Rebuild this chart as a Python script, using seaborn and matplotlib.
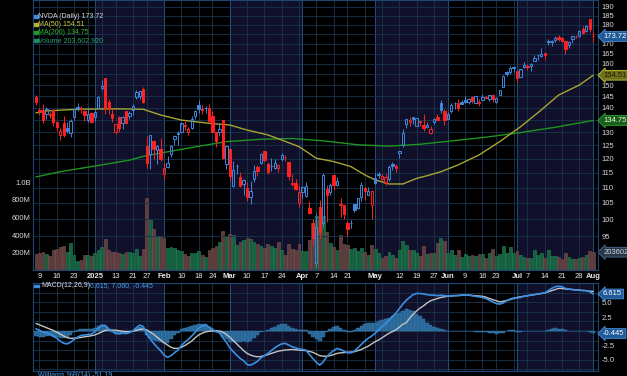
import numpy as np
import pandas as pd
import matplotlib
matplotlib.use("Agg")
import matplotlib.pyplot as plt
from matplotlib.patches import Rectangle
from matplotlib.ticker import FixedLocator, NullLocator, FuncFormatter
import seaborn as sns

sns.set_style("dark")
plt.rcParams['font.family'] = ['Liberation Sans Narrow', 'Liberation Sans', 'DejaVu Sans']

#=======================
# NVDA daily bars, 2024-12-06 .. 2025-08-01
holidays = ['2024-12-25', '2025-01-01', '2025-01-09', '2025-01-20', '2025-02-17',
            '2025-04-18', '2025-05-26', '2025-06-19', '2025-07-04']
dates = pd.bdate_range('2024-12-06', '2025-08-01', freq='C', holidays=holidays)

open_ = [144.60, 138.97, 139.01, 137.36, 137.08, 138.94, 134.18, 129.09, 133.86, 131.76, 129.81, 136.28, 140.00, 139.70, 138.55, 134.83, 138.03,
         136.00, 140.01, 148.59, 153.03, 142.58, 137.45, 129.99, 136.05, 133.65, 138.64, 136.69, 139.16, 144.66, 145.05, 148.37, 124.80, 121.81, 126.50, 123.10, 123.78,
         114.75, 116.96, 121.76, 127.42, 129.22, 130.09, 132.58, 130.02, 131.56, 136.48, 141.27, 139.51, 140.03, 140.04, 136.56, 129.98, 129.99, 135.00, 118.02,
         123.51, 110.65, 117.58, 113.53, 111.25, 109.90, 106.99, 112.73, 117.03, 118.61, 122.74, 118.00, 117.27, 116.55, 116.77, 119.88, 120.55, 118.73, 111.35, 111.49, 105.13,
         108.52, 107.29, 103.51, 98.91, 87.46, 103.81, 98.89, 109.37, 108.50, 114.11, 110.97, 104.55, 104.45, 98.77, 98.78, 104.52, 103.48, 106.85, 109.69, 107.67, 104.47,
         113.08, 114.18, 112.91, 111.48, 113.05, 118.25, 117.35, 121.97, 124.98, 133.20, 134.29, 136.22, 132.39, 134.29, 133.06, 132.23, 129.75, 134.15, 136.03, 142.25, 138.72,
         135.49, 138.78, 142.19, 142.17, 142.51, 143.19, 142.69, 144.61, 141.97, 142.48, 143.35, 144.49, 144.01, 145.45, 142.50, 145.56, 149.27, 155.98, 156.04, 158.37,
         156.29, 153.66, 158.39, 158.81, 159.00, 161.22, 164.32, 163.74, 165.37, 171.19, 171.06, 172.02, 173.64, 172.75, 171.34, 169.53, 172.19, 173.61, 174.02, 177.96, 176.71, 182.90,
         174.09]
high = [145.70, 139.95, 141.82, 140.17, 138.44, 139.60, 134.40, 131.59, 136.70, 134.03, 135.28, 139.79, 141.90, 140.85, 139.02, 140.27, 138.07,
        138.88, 144.90, 152.16, 153.13, 143.95, 139.92, 133.49, 136.38, 136.45, 138.75, 138.50, 141.83, 147.79, 147.23, 148.97, 128.40, 129.00, 126.89, 125.00, 127.85,
        118.57, 121.20, 125.00, 128.77, 130.37, 133.00, 134.48, 132.24, 136.50, 139.25, 143.44, 141.36, 140.67, 141.46, 138.59, 130.20, 133.73, 135.01, 125.09,
        123.70, 119.31, 118.28, 115.35, 113.00, 111.85, 112.23, 117.77, 117.76, 121.99, 122.90, 119.02, 120.45, 120.00, 117.99, 122.22, 121.29, 118.84, 114.45, 112.87, 110.96,
        110.20, 111.98, 105.63, 100.13, 101.75, 105.85, 115.10, 110.86, 111.65, 114.29, 113.62, 106.54, 104.47, 99.43, 99.81, 104.80, 106.54, 111.92, 110.37, 110.20, 108.92,
        114.94, 115.40, 114.67, 114.74, 117.68, 118.68, 118.23, 123.00, 131.22, 135.44, 136.30, 136.35, 135.87, 134.58, 137.40, 134.25, 132.68, 135.66, 137.25, 143.49, 139.62,
        138.12, 142.00, 142.39, 144.00, 143.27, 145.00, 144.29, 144.99, 145.00, 143.58, 146.18, 145.22, 145.65, 146.20, 144.78, 147.96, 154.45, 156.72, 158.71, 158.99,
        157.20, 157.10, 160.98, 159.66, 160.30, 164.42, 164.50, 167.89, 165.49, 172.40, 171.75, 174.16, 174.25, 173.38, 171.39, 171.26, 173.64, 174.72, 177.00, 179.38, 179.67, 183.30,
        176.54]
low = [141.31, 137.13, 133.79, 135.21, 135.80, 132.54, 130.42, 126.86, 128.28, 129.55, 128.22, 135.12, 138.65, 137.73, 134.71, 134.02, 133.83,
       134.63, 139.73, 147.82, 137.56, 137.56, 134.22, 129.51, 130.05, 131.29, 133.49, 135.46, 137.09, 143.67, 143.72, 141.88, 116.70, 116.25, 120.05, 118.10, 119.19,
       113.01, 116.70, 120.76, 125.21, 125.00, 129.96, 131.02, 129.08, 131.17, 135.50, 137.93, 137.22, 137.78, 134.03, 130.08, 124.44, 128.49, 120.01, 116.40,
       112.28, 110.11, 114.51, 110.22, 107.56, 105.46, 104.77, 112.01, 113.79, 118.15, 118.70, 114.54, 115.53, 116.50, 115.43, 119.20, 119.14, 112.70, 110.66, 109.07, 103.65,
       106.47, 106.79, 101.60, 92.11, 86.62, 94.46, 97.53, 99.15, 107.43, 109.07, 110.50, 100.50, 100.05, 95.04, 97.28, 102.02, 103.11, 105.73, 106.02, 107.44, 99.96,
       111.30, 113.37, 112.66, 110.82, 112.28, 115.85, 115.21, 120.28, 124.47, 131.68, 132.66, 133.46, 132.39, 132.62, 130.59, 131.55, 129.16, 133.31, 134.79, 137.91, 132.92,
       135.40, 137.95, 139.55, 138.83, 141.51, 141.94, 141.53, 141.87, 141.85, 140.85, 143.20, 143.78, 143.12, 142.65, 142.03, 145.50, 149.26, 154.19, 155.08, 155.94,
       151.49, 153.58, 157.77, 157.11, 156.54, 161.16, 161.61, 163.47, 162.02, 169.20, 168.90, 170.83, 171.26, 171.00, 164.58, 167.97, 170.26, 172.96, 173.51, 175.02, 176.25, 175.93,
       170.89]
close = [142.44, 138.81, 135.07, 139.31, 137.34, 134.25, 132.00, 130.39, 128.91, 130.68, 134.70, 139.67, 140.22, 139.93, 137.01, 137.49, 134.29,
         138.31, 144.47, 149.43, 140.14, 140.11, 135.91, 133.23, 131.76, 136.24, 133.57, 137.71, 140.83, 147.07, 147.22, 142.62, 118.42, 128.99, 123.70, 124.65, 120.07,
         116.66, 118.65, 124.83, 128.68, 129.84, 133.57, 132.80, 131.14, 135.29, 138.85, 139.40, 139.23, 140.11, 134.43, 130.28, 126.63, 131.28, 120.15, 124.92,
         114.06, 115.99, 117.30, 110.57, 112.69, 106.98, 108.76, 115.74, 115.58, 121.67, 119.53, 115.43, 117.52, 118.53, 117.70, 121.41, 120.69, 113.76, 111.43, 109.67, 108.38,
         110.15, 110.42, 101.80, 94.31, 97.64, 96.30, 114.33, 107.57, 110.93, 110.71, 112.20, 104.49, 101.49, 96.91, 98.89, 102.71, 106.43, 111.01, 108.73, 109.02, 108.92,
         111.61, 114.50, 113.82, 113.54, 117.06, 117.37, 116.65, 123.00, 129.93, 135.34, 134.83, 135.40, 135.57, 134.38, 131.80, 132.83, 131.29, 135.50, 134.81, 139.19, 135.13,
         137.38, 141.22, 141.92, 139.99, 141.72, 142.63, 143.96, 142.83, 145.00, 141.97, 144.69, 144.12, 145.48, 143.85, 144.17, 147.90, 154.31, 155.02, 157.75, 157.99,
         153.30, 157.25, 159.34, 158.24, 160.00, 162.88, 164.10, 164.92, 164.07, 170.70, 171.37, 173.00, 172.41, 171.38, 167.03, 170.78, 173.74, 173.50, 176.75, 175.51, 179.27, 177.87,
         173.72]
close_before = 145.06   # close of 2024-12-05, sets colour of first bar
volume_m = [188.5, 189.3, 210.0, 184.9, 159.2, 231.5, 237.9, 259.4, 277.4, 209.7, 306.5, 176.1, 105.2, 116.2, 170.6, 167.7, 155.7,
            198.2, 229.3, 265.4, 351.8, 227.3, 207.6, 204.8, 195.6, 185.2, 209.2, 201.2, 197.7, 237.7, 155.9, 234.7, 818.8, 579.7, 467.1, 392.9, 390.4,
            371.2, 256.6, 262.2, 251.4, 228.2, 216.9, 178.9, 160.3, 197.4, 195.5, 219.2, 167.5, 143.9, 228.2, 251.4, 271.4, 322.5, 443.2, 389.1,
            411.4, 398.2, 284.4, 321.1, 341.8, 366.5, 354.9, 323.9, 299.0, 277.6, 255.5, 299.7, 273.4, 248.8, 316.4, 228.9, 168.7, 293.5, 236.1, 229.9, 299.2,
            222.6, 220.6, 338.8, 532.3, 612.0, 476.2, 612.9, 437.4, 313.4, 264.3, 228.3, 397.0, 292.5, 288.2, 241.0, 247.5, 220.8, 251.1, 207.7, 170.4, 286.5,
            236.1, 190.2, 133.2, 158.5, 206.5, 173.5, 132.7, 225.0, 330.4, 281.2, 226.6, 227.4, 193.2, 161.5, 270.6, 187.3, 197.7, 192.9, 304.0, 369.2, 333.2,
            197.7, 225.0, 167.1, 231.4, 153.9, 185.1, 155.9, 167.7, 162.4, 180.8, 183.1, 139.1, 193.0, 242.9, 154.3, 187.6, 269.2, 198.1, 263.2, 194.6,
            212.6, 171.0, 144.0, 140.1, 138.1, 230.7, 167.7, 193.6, 136.9, 230.6, 158.8, 160.8, 147.4, 123.1, 193.1, 154.1, 128.9, 122.3, 140.0, 154.1, 174.3, 221.7,
            203.6]

# moving averages
ma50_dates = ['2024-12-06', '2024-12-11', '2024-12-24', '2025-01-10', '2025-01-24', '2025-01-31', '2025-02-10',
              '2025-02-21', '2025-03-03', '2025-03-10', '2025-03-18', '2025-03-24', '2025-03-31', '2025-04-07',
              '2025-04-14', '2025-04-22', '2025-04-28', '2025-05-01', '2025-05-07', '2025-05-13', '2025-05-19',
              '2025-05-22', '2025-05-29', '2025-06-05', '2025-06-13', '2025-06-24', '2025-07-02', '2025-07-11',
              '2025-07-18', '2025-07-28', '2025-08-01']
ma50_vals = [137.9, 138.7, 139.4, 139.6, 139.4, 137.0, 134.9, 133.6, 132.9, 130.9, 129.0, 127.0, 124.5, 120.2,
             119.0, 117.2, 114.3, 112.6, 111.2, 111.2, 113.1, 114.0, 115.4, 117.8, 121.4, 126.4, 132.2, 139.1,
             145.5, 150.0, 154.51]
ma200_dates = ['2024-12-06', '2024-12-17', '2025-01-02', '2025-01-17', '2025-01-24', '2025-01-31', '2025-02-14',
               '2025-02-28', '2025-03-14', '2025-03-27', '2025-04-09', '2025-04-24', '2025-05-07', '2025-05-20',
               '2025-06-04', '2025-06-17', '2025-07-02', '2025-07-17', '2025-08-01']
ma200_vals = [113.6, 115.4, 117.4, 119.5, 120.9, 122.1, 124.4, 126.4, 127.3, 127.6, 126.7, 125.2, 124.7, 125.4,
              126.8, 128.1, 129.9, 132.0, 134.75]

# MACD(12,26,9) lines
macd = [0.4, 0.1, -0.2, -0.35, -0.5, -0.9, -1.3, -1.8, -2.2, -2.3, -2.0, -1.5, -1.1, -0.8, -0.7, -0.65, -0.55,
        -0.1, 0.5, 1.0, 1.0, 0.4, 0.0, -0.4, -0.5, -0.4, -0.45, -0.3, 0.0, 0.6, 1.05, 0.8, -0.6, -1.4, -2.2, -2.9, -3.5,
        -4.3, -4.7, -4.4, -3.9, -3.4, -2.6, -2.0, -1.5, -0.9, -0.2, 0.5, 0.9, 1.07, 0.7, 0.3, -0.1, -0.3, -1.2, -2.0,
        -3.0, -3.7, -4.3, -4.9, -5.3, -6.0, -6.1, -5.8, -5.4, -4.8, -4.4, -4.0, -3.5, -3.0, -2.6, -2.3, -2.2, -2.5, -2.8, -3.0, -3.2,
        -3.3, -3.4, -4.2, -4.9, -5.6, -6.1, -5.5, -4.6, -4.0, -3.5, -3.1, -3.3, -3.6, -3.9, -3.9, -3.6, -3.0, -2.4, -1.8, -1.3, -0.9,
        -0.4, 0.2, 0.8, 1.3, 1.9, 2.6, 3.2, 4.0, 4.8, 5.5, 6.0, 6.5, 6.7, 6.7, 6.6, 6.5, 6.4, 6.4, 6.3, 6.4, 6.3,
        6.25, 6.3, 6.35, 6.3, 6.4, 6.4, 6.4, 6.3, 6.2, 6.1, 6.0, 5.8, 5.5, 5.2, 4.9, 4.8, 5.0, 5.4, 5.7, 5.9,
        5.9, 6.0, 6.2, 6.3, 6.4, 6.5, 6.6, 6.7, 6.8, 7.2, 7.6, 7.9, 8.0, 7.9, 7.6, 7.5, 7.4, 7.3, 7.3, 7.2, 7.2, 7.0,
        6.615]
signal = [1.35, 1.1, 0.85, 0.6, 0.35, 0.1, -0.2, -0.55, -0.9, -1.2, -1.3, -1.3, -1.25, -1.15, -1.05, -0.95, -0.85,
          -0.7, -0.45, -0.15, 0.1, 0.18, 0.18, 0.15, 0.05, -0.05, -0.1, -0.1, -0.05, 0.1, 0.3, 0.35, 0.2, -0.2, -0.6, -1.1, -1.6,
          -2.1, -2.5, -2.9, -3.1, -3.1, -2.9, -2.6, -2.2, -1.8, -1.2, -0.7, -0.4, -0.15, -0.05, 0.0, 0.05, 0.0, -0.2, -0.6,
          -1.1, -1.7, -2.3, -2.9, -3.5, -4.0, -4.3, -4.5, -4.6, -4.55, -4.4, -4.2, -4.0, -3.8, -3.6, -3.5, -3.4, -3.35, -3.3, -3.35, -3.4,
          -3.45, -3.5, -3.65, -3.8, -4.1, -4.4, -4.5, -4.5, -4.4, -4.2, -4.0, -3.9, -3.85, -3.8, -3.75, -3.7, -3.5, -3.3, -3.0, -2.7, -2.3,
          -1.9, -1.6, -1.2, -0.8, -0.4, -0.1, 0.2, 0.7, 1.2, 1.5, 2.3, 3.0, 3.6, 4.1, 4.5, 5.0, 5.4, 5.6, 5.8, 6.0, 6.1,
          6.2, 6.25, 6.3, 6.35, 6.4, 6.4, 6.4, 6.35, 6.3, 6.25, 6.2, 6.05, 5.8, 5.6, 5.4, 5.2, 5.3, 5.45, 5.6, 5.8,
          6.0, 6.1, 6.2, 6.3, 6.4, 6.5, 6.6, 6.7, 6.8, 7.0, 7.2, 7.4, 7.6, 7.6, 7.5, 7.45, 7.4, 7.35, 7.3, 7.25, 7.2, 7.1,
          7.06]

tick_dates = ['2024-12-09', '2024-12-16', '2024-12-23', '2025-01-02', '2025-01-13', '2025-01-21', '2025-01-27',
              '2025-02-03', '2025-02-10', '2025-02-18', '2025-02-24', '2025-03-03', '2025-03-10', '2025-03-17',
              '2025-03-24', '2025-04-01', '2025-04-07', '2025-04-14', '2025-04-21', '2025-05-01', '2025-05-12',
              '2025-05-19', '2025-05-27', '2025-06-02', '2025-06-09', '2025-06-16', '2025-06-23', '2025-07-01',
              '2025-07-07', '2025-07-14', '2025-07-21', '2025-07-28', '2025-08-01']
tick_labels = ['9', '16', '23', '2025', '13', '21', '27', 'Feb', '10', '18', '24', 'Mar', '10', '17', '24',
               'Apr', '7', '14', '21', 'May', '12', '19', '27', 'Jun', '9', '16', '23', 'Jul', '7', '14', '21',
               '28', 'Aug']
bold_labels = ['2025', 'Feb', 'Mar', 'Apr', 'May', 'Jun', 'Jul', 'Aug']
price_ticks = [95, 100, 105, 110, 115, 120, 125, 130, 135, 140, 145, 150, 155, 160, 165, 170, 175, 180, 185, 190]
hidden_price_labels = [135, 155, 175]   # sit under the value tags

#=======================
n = len(dates)
pos = np.arange(n)
idx = {d.strftime('%Y-%m-%d'): i for i, d in enumerate(dates)}

o = np.array(open_)
h = np.array(high)
l = np.array(low)
c = np.array(close)
prev = np.r_[close_before, c[:-1]]
up = c >= prev
hollow = c > o

BLUE = '#3f88dc'
RED = '#ff2121'
NAVY = '#10102a'
GRID = '#18344f'
MLINE = '#234f7c'
EDGE = '#1d4573'
TXT = '#d8d8d8'

fig = plt.figure(figsize=(6.27, 3.76), dpi=100, facecolor='black')
L, W = 33 / 627, 565 / 627
ax_vol = fig.add_axes([L, 1 - 270 / 376, W, 270 / 376])
ax_macd = fig.add_axes([L, 1 - 371 / 376, W, 88 / 376], sharex=ax_vol)
ax = ax_vol.twinx()

month_start = [i for i in range(1, n) if dates[i].month != dates[i - 1].month]
week_start = [i for i in range(1, n) if dates[i].weekday() <= dates[i - 1].weekday()]

for a in (ax_vol, ax_macd):
    a.set_facecolor('black')
    bounds = month_start + [n + 3]
    for k, s in enumerate(month_start):
        if dates[s].month % 2 == 1:
            a.axvspan(s, bounds[k + 1], color=NAVY, lw=0, zorder=0)
    for w in week_start:
        a.axvline(w, color=GRID, lw=0.6, zorder=0.5)
    for s in month_start:
        a.axvline(s, color=MLINE, lw=0.7, zorder=0.6)
    for sp in a.spines.values():
        sp.set_color(EDGE)
        sp.set_linewidth(0.8)
for sp in ax.spines.values():
    sp.set_color(EDGE)
    sp.set_linewidth(0.8)

# volume
vcol = np.where(up, '#16603f', '#5d3c3c')
vedge = np.where(up, '#23875a', '#7c5555')
ax_vol.bar(pos, np.array(volume_m) * 1e6, width=0.82, color=vcol, edgecolor=vedge, lw=0.4, zorder=1)
ax_vol.set_ylim(0, 270 / 17.5 * 200e6)
ax_vol.set_yticks([200e6, 400e6, 600e6, 800e6, 1e9])
ax_vol.set_yticklabels(['200M', '400M', '600M', '800M', '1.0B'])
ax_vol.tick_params(axis='y', length=0, labelsize=5.5, labelcolor=TXT, pad=1.5)

# price candles
ax.set_yscale('log')
for p in price_ticks:
    ax.axhline(p, color=GRID, lw=0.6, zorder=0.5)
cols = np.where(up, BLUE, RED)
tops = np.maximum(o, c)
bots = np.minimum(o, c)
faces = [('none' if hollow[i] else cols[i]) for i in range(n)]
ax.vlines(pos, tops, h, colors=cols, lw=0.7, zorder=3)
ax.vlines(pos, l, bots, colors=cols, lw=0.7, zorder=3)
ax.bar(pos, tops - bots, bottom=bots, width=0.68, color=faces, edgecolor=cols, lw=0.7, zorder=4)

sns.lineplot(x=[idx[d] for d in ma200_dates], y=ma200_vals, ax=ax, color='#1f9420', lw=1.0, zorder=2)
sns.lineplot(x=[idx[d] for d in ma50_dates], y=ma50_vals, ax=ax, color='#a6a534', lw=1.0, zorder=2)

ax.set_ylim(85.72, 194.0)
shown = [p for p in price_ticks if p not in hidden_price_labels]
ax.yaxis.set_major_locator(FixedLocator(shown))
ax.yaxis.set_minor_locator(NullLocator())
ax.yaxis.set_major_formatter(FuncFormatter(lambda v, _: '%d' % round(v)))
ax.tick_params(axis='y', which='both', length=0, labelsize=5.5, labelcolor=TXT, pad=2.5)
ax.set_xlabel('')
ax.set_ylabel('')

# MACD panel
hist = np.array(macd) - np.array(signal)
ax_macd.axhline(0, color=GRID, lw=0.6, zorder=0.5)
for v in np.arange(-6.8, 8.6, 1.7):
    ax_macd.axhline(v, color=GRID, lw=0.6, zorder=0.5)
ax_macd.bar(pos, hist, width=1.0, color='#2a6695', edgecolor='#3a7eb8', lw=0.3, zorder=2)
sns.lineplot(x=pos, y=signal, ax=ax_macd, color='#c4c4c4', lw=1.0, zorder=3)
sns.lineplot(x=pos, y=macd, ax=ax_macd, color='#3b8fe0', lw=1.2, zorder=4)
ax_macd.set_ylim(-7.14, 8.57)
ax_macd.yaxis.tick_right()
ax_macd.set_yticks([-5, -2.5, 2.5, 5])
ax_macd.set_yticklabels(['-5.0', '-2.5', '2.5', '5.0'])
ax_macd.tick_params(axis='y', length=0, labelsize=5.5, labelcolor=TXT, pad=2.5)
ax_macd.tick_params(axis='x', length=0, labelbottom=False)
ax_macd.set_xlabel('')
ax_macd.set_ylabel('')

# date axis
ax_vol.set_xlim(-0.87, 162.4)
ax_vol.set_xticks([idx[d] for d in tick_dates])
ax_vol.set_xticklabels(tick_labels)
ax_vol.tick_params(axis='x', length=0, labelsize=5.5, labelcolor='#e6e6e6', pad=2.5)
for t in ax_vol.get_xticklabels():
    if t.get_text() in bold_labels:
        t.set_fontweight('bold')

# last-value tags on the right
def tag(a, y, s, fc, ec, tc):
    a.text(1.009, y, s, transform=a.get_yaxis_transform(), fontsize=5.5, color=tc, va='center', ha='left',
           bbox=dict(boxstyle='larrow,pad=0.18', fc=fc, ec=ec, lw=0.6), clip_on=False, zorder=10)

tag(ax, close[-1], '173.72', '#1f5a99', '#4a8fd8', 'white')
tag(ax, ma50_vals[-1], '154.51', '#6f6f1c', '#c4c43a', '#202000')
tag(ax, ma200_vals[-1], '134.75', '#1b5e1b', '#2fa82f', '#e0ffe0')
tag(ax_vol, volume_m[-1] * 1e6, '203602920', '#26384a', '#4d6f92', '#d0d8e0')
tag(ax_macd, macd[-1], '6.615', '#1f5a99', '#4a8fd8', 'white')
tag(ax_macd, hist[-1], '-0.445', '#1f5a99', '#4a8fd8', 'white')

# legends
leg = [('NVDA (Daily) 173.72', '#dadada', BLUE),
       ('MA(50) 154.51', '#caca3c', '#b5b532'),
       ('MA(200) 134.75', '#33b433', '#1f9a1f'),
       ('Volume 203,602,920', '#27a272', '#1f8a5a')]
for k, (s, tc, ic) in enumerate(leg):
    y = 16.0 + 8.1 * k
    fig.text(38.5 / 627, 1 - y / 376, s, color=tc, fontsize=5, va='center', ha='left')
    fig.patches.append(Rectangle((33.5 / 627, 1 - (y + 1.5) / 376), 4 / 627, 3 / 376,
                                 transform=fig.transFigure, color=ic))

fig.patches.append(Rectangle((33.5 / 627, 1 - 287 / 376), 5 / 627, 1.6 / 376,
                             transform=fig.transFigure, color=BLUE))
fig.text(41 / 627, 1 - 285.7 / 376, 'MACD(12,26,9)', color='#e0e0e0', fontsize=5, va='center', ha='left')
fig.text(90.5 / 627, 1 - 285.7 / 376, '6.615, 7.060, -0.445', color='#4a9de6', fontsize=5, va='center', ha='left')
fig.text(38 / 627, 1 - 372 / 376, 'Williams %R(14) -51.19', color='#4a9de6', fontsize=5, va='top', ha='left')

fig.savefig('out.png', dpi=100, facecolor='black')
